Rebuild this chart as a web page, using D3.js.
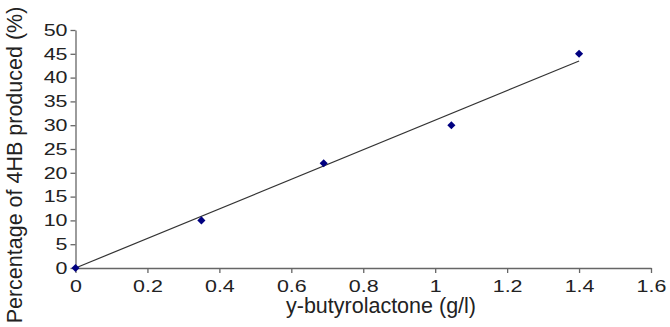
<!DOCTYPE html>
<html>
<head>
<meta charset="utf-8">
<script src="https://cdn.jsdelivr.net/npm/d3@7"></script>
<style>
  body { margin: 0; background: #fff; }
  svg text { font-family: "Liberation Sans", Arial, sans-serif; fill: #222; }
</style>
</head>
<body>
<div class="chart-container"></div>
<script>
// measured points
const gbl = [0, 0.35, 0.69, 1.045, 1.4];
const produced = [0, 10, 22, 30, 45];

// linear trendline end points
const trendX = [0, 1.4];
const trendY = [0, 43.5];

const xTicks = [0, 0.2, 0.4, 0.6, 0.8, 1, 1.2, 1.4, 1.6];
const yTicks = [0, 5, 10, 15, 20, 25, 30, 35, 40, 45, 50];

const w = 670;
const h = 327;
const stretch = 1.3; // tick labels look wider than plain Arial

const svg = d3
  .select(".chart-container")
  .append("svg")
  .attr("width", w)
  .attr("height", h);

const xScale = d3.scaleLinear().domain([0, 1.6]).range([75.5, 651]);
const yScale = d3.scaleLinear().domain([0, 50]).range([268, 30]);

// axes
const xAxis = d3
  .axisBottom(xScale)
  .tickValues(xTicks)
  .tickFormat(d3.format("~g"))
  .tickSizeInner(5)
  .tickSizeOuter(0);

const yAxis = d3
  .axisLeft(yScale)
  .tickValues(yTicks)
  .tickFormat(d3.format("d"))
  .tickSizeInner(5)
  .tickSizeOuter(0);

const gx = svg
  .append("g")
  .attr("transform", "translate(0," + yScale(0) + ")")
  .call(xAxis);

const gy = svg
  .append("g")
  .attr("transform", "translate(" + xScale(0) + ",0)")
  .call(yAxis);

[gx, gy].forEach((g) => {
  g.select(".domain").attr("stroke", "#666").attr("stroke-width", 1.3);
  g.selectAll(".tick line").attr("stroke", "#666").attr("stroke-width", 1.3);
  g.selectAll(".tick text")
    .attr("fill", "#222")
    .attr("transform", "scale(" + stretch + ",1)")
    .style("font-size", "16.5px")
    .style("font-family", '"Liberation Sans", Arial, sans-serif');
});
gx.selectAll(".tick text").attr("dy", "0.95em");
gy.selectAll(".tick text").attr("x", -8 / stretch);

// trendline
svg
  .append("line")
  .attr("x1", xScale(trendX[0]))
  .attr("y1", yScale(trendY[0]))
  .attr("x2", xScale(trendX[1]))
  .attr("y2", yScale(trendY[1]))
  .attr("stroke", "#333")
  .attr("stroke-width", 1.2);

// diamond markers
const diamond = d3.symbol().type(d3.symbolDiamond2).size(42);
svg
  .selectAll(".dot")
  .data(gbl)
  .enter()
  .append("path")
  .attr("class", "dot")
  .attr("d", diamond)
  .attr("transform", (d, i) => "translate(" + xScale(d) + "," + yScale(produced[i]) + ")")
  .attr("fill", "#000080");

// axis titles
svg
  .append("text")
  .attr("x", 381)
  .attr("y", 313)
  .attr("text-anchor", "middle")
  .style("font-size", "21.5px")
  .text("y-butyrolactone (g/l)");

svg
  .append("text")
  .attr("transform", "translate(22,165) rotate(-90)")
  .attr("text-anchor", "middle")
  .style("font-size", "21.5px")
  .text("Percentage of 4HB produced (%)");
</script>
</body>
</html>
